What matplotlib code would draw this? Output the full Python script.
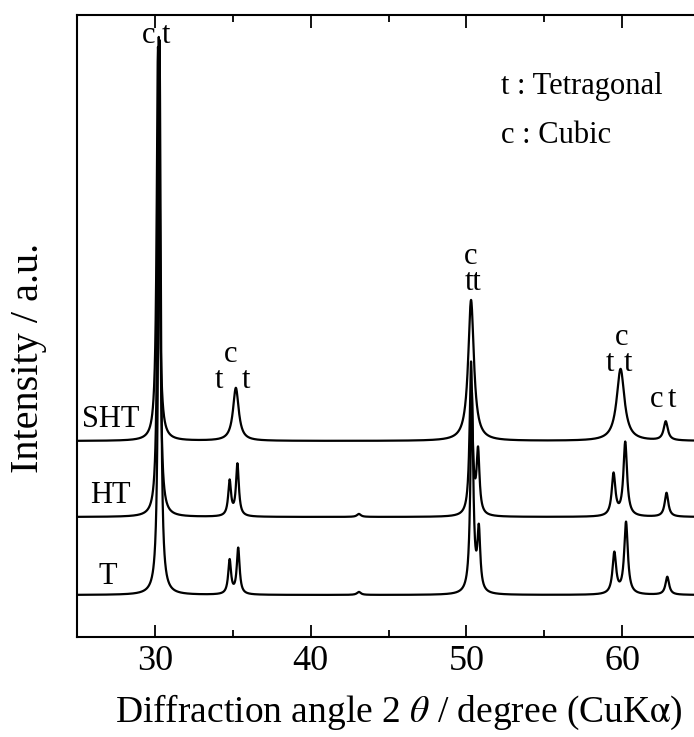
import numpy as np
import matplotlib.pyplot as plt

plt.rcParams['font.family'] = ['Liberation Serif', 'DejaVu Serif']
plt.rcParams['mathtext.fontset'] = 'stix'

# Sample names and vertical offsets of each pattern (a.u.)
samples = ['SHT', 'HT', 'T']
baselines = [196, 120, 42]

# Peak tables: position (deg), height (a.u.), half width (deg)
sht_pos = [30.2, 35.2, 50.3, 59.9, 62.8]
sht_height = [394, 53, 141, 72, 19]
sht_width = [0.10, 0.22, 0.22, 0.30, 0.16]

ht_pos = [30.25, 34.8, 35.3, 43.1, 50.3, 50.75, 59.45, 60.2, 62.85]
ht_height = [480, 35, 52, 3, 152, 62, 42, 74, 24]
ht_width = [0.09, 0.11, 0.11, 0.15, 0.11, 0.11, 0.14, 0.14, 0.14]

t_pos = [30.3, 34.8, 35.35, 43.1, 50.35, 50.8, 59.5, 60.25, 62.9]
t_height = [555, 34, 46, 3, 200, 60, 41, 72, 18]
t_width = [0.09, 0.11, 0.11, 0.15, 0.11, 0.11, 0.14, 0.14, 0.14]

peak_tables = [(sht_pos, sht_height, sht_width),
               (ht_pos, ht_height, ht_width),
               (t_pos, t_height, t_width)]

# Sample label anchors (left x in deg, baseline in a.u.)
sample_x = [25.32, 25.84, 26.41]
sample_y = [210, 134, 53]

# Phase labels above the peaks: (x, baseline y, text)
phase_labels = [(29.63, 594, 'c'), (30.72, 594, 't'),
                (34.84, 275, 'c'), (34.13, 249, 't'), (35.87, 249, 't'),
                (50.3, 373, 'c'), (50.43, 347, 'tt'),
                (59.98, 292, 'c'), (59.21, 266, 't'), (60.37, 266, 't'),
                (62.23, 230, 'c'), (63.2, 230, 't')]
legend_lines = ['t : Tetragonal', 'c : Cubic']

two_theta = np.linspace(25, 65, 4001)

fig = plt.figure(figsize=(6.94, 7.37), dpi=100)
ax = fig.add_axes([77 / 694, 100 / 737, 623 / 694, 622 / 737])

for name, base, (pos, hgt, wid) in zip(samples, baselines, peak_tables):
    y = np.full_like(two_theta, float(base))
    for p, h, w in zip(pos, hgt, wid):
        y += h / (1 + ((two_theta - p) / w) ** 2)
    ax.plot(two_theta, y, color='black', lw=1.6)

for name, x, y in zip(samples, sample_x, sample_y):
    ax.text(x, y, name, fontsize=22, ha='left', va='baseline')

for x, y, s in phase_labels:
    ax.text(x, y, s, fontsize=22, ha='center', va='baseline')

ax.text(0.68, (637 - 94) / 622, legend_lines[0], transform=ax.transAxes,
        fontsize=22, ha='left', va='baseline')
ax.text(0.68, (637 - 143) / 622, legend_lines[1], transform=ax.transAxes,
        fontsize=22, ha='left', va='baseline')

ax.set_xlim(25, 65)
ax.set_ylim(0, 622)
ax.set_xticks([30, 40, 50, 60])
ax.set_xticks([35, 45, 55], minor=True)
ax.set_yticks([])
ax.tick_params(axis='x', which='major', direction='in', length=9, width=1.3,
               top=True, labelsize=26, pad=5.5)
ax.tick_params(axis='x', which='minor', direction='in', length=5, width=1.3,
               top=True)
for sp in ax.spines.values():
    sp.set_linewidth(1.5)

fig.text(399 / 694, 1 - 722 / 737,
         r'Diffraction angle 2 $\theta$ / degree (CuK$\mathrm{\alpha}$)',
         fontsize=27, ha='center', va='baseline')
fig.text(29 / 694, 1 - 358 / 737, 'Intensity / a.u.', fontsize=29,
         rotation=90, ha='center', va='center')

fig.savefig('out.png', dpi=100)
